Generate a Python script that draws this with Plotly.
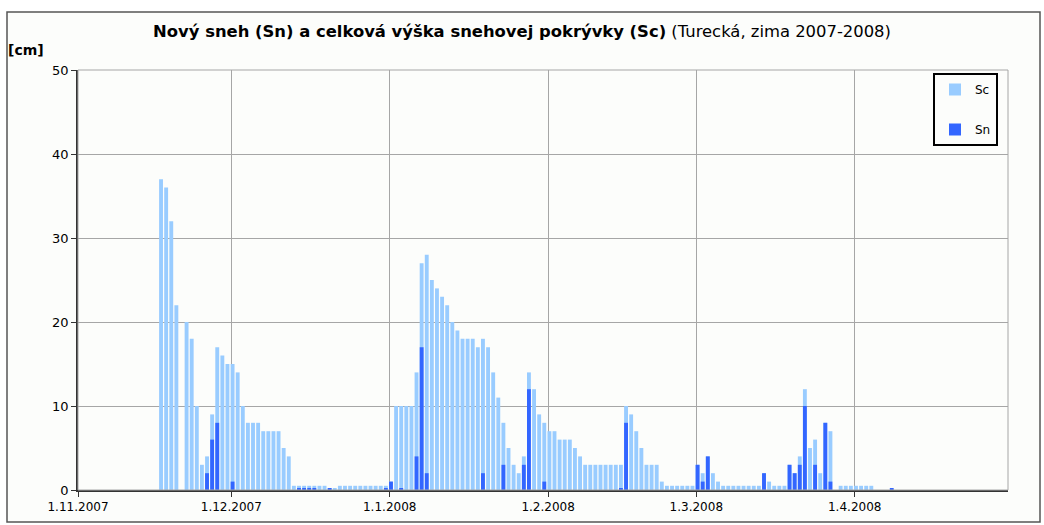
import pandas as pd
import plotly.graph_objects as go

# ---- data (daily values from 17.11.2007) ----
start_day = "2007-11-17"
sc_values = [
    37, 36, 32, 22, None, 20, 18, 10, 3, 4, 9, 17, 16, 15, 15, 14, 10, 8, 8, 8,
    7, 7, 7, 7, 5, 4, 0.5, 0.5, 0.5, 0.5, 0.5, 0.5, 0.5, 0.2, 0.2,
    0.5, 0.5, 0.5, 0.5, 0.5, 0.5, 0.5, 0.5, 0.5, 0.5, 1,
    10, 10, 10, 10, 14, 27, 28, 25, 24, 23, 22, 20, 19, 18, 18, 18, 17, 18, 17, 14,
    11, 8, 5, 3, 2, 4, 14, 12, 9, 8, 7, 7, 6, 6, 6, 5, 4,
    3, 3, 3, 3, 3, 3, 3, 3, 10, 9, 7, 5, 3, 3, 3, 1,
    0.5, 0.5, 0.5, 0.5, 0.5, 0.5, 3, 2, 4, 2, 1,
    0.5, 0.5, 0.5, 0.5, 0.5, 0.5, 0.5, 0.5, 2, 1, 0.5, 0.5, 0.5,
    3, 2, 4, 12, 5, 6, 2, 8, 7, None,
    0.5, 0.5, 0.5, 0.5, 0.5, 0.5, 0.5, None, None, None, None,
]
sn_values = [
    None, None, None, None, None, None, None, None, None, 2, 6, 8, None, None, 1, None, None, None, None, None,
    None, None, None, None, None, None, None, 0.2, 0.2, 0.2, 0.2, None, None, 0.2, None,
    None, None, None, None, None, None, None, None, None, 0.2, 1,
    None, 0.2, None, None, 4, 17, 2, None, None, None, None, None, None, None, None, None, None, 2, None, None,
    None, 3, None, None, None, 3, 12, None, None, 1, None, None, None, None, None, None, None,
    None, None, None, None, None, None, None, 0.2, 8, None, None, None, None, None, None, None,
    None, None, None, None, None, None, 3, 1, 4, None, None,
    None, None, None, None, None, None, None, None, 2, None, None, None, None,
    3, 2, 3, 10, None, 3, None, 8, 1, None,
    None, None, None, None, None, None, None, None, None, None, 0.2,
]
dates = pd.date_range(start_day, periods=len(sc_values), freq="D")

month_ticks = ["2007-11-01", "2007-12-01", "2008-01-01", "2008-02-01", "2008-03-01", "2008-04-01"]
month_labels = ["1.11.2007", "1.12.2007", "1.1.2008", "1.2.2008", "1.3.2008", "1.4.2008"]
x_range = ["2007-11-01", "2008-05-01"]

title_bold = "Nový sneh (Sn) a celková výška snehovej pokrývky (Sc)"
title_rest = "(Turecká, zima 2007-2008)"

# ---- styling ----
DAY_MS = 86400000
BAR_W = 0.76 * DAY_MS
BAR_OFF = -0.13 * DAY_MS
BG = "#fcfdfb"
GRID = "#a6a6a6"
FONT = "DejaVu Sans, Verdana, sans-serif"

fig = go.Figure()
fig.add_trace(go.Bar(x=dates, y=sc_values, name="Sc", marker_color="#99ccff",
                     marker_line_width=0, width=BAR_W, offset=BAR_OFF, legendgroup="a"))
fig.add_trace(go.Bar(x=dates, y=sn_values, name="Sn", marker_color="#3366ff",
                     marker_line_width=0, width=BAR_W, offset=BAR_OFF, legendgroup="b"))

L, R, T, B = 78, 36, 70, 35
W, H = 1044, 525
pw, ph = W - L - R, H - T - B

def px_x(x):
    return (x - L) / pw

def px_y(y):
    return (H - B - y) / ph

fig.update_layout(
    width=W, height=H,
    margin=dict(l=L, r=R, t=T, b=B),
    barmode="overlay",
    paper_bgcolor="white",
    plot_bgcolor=BG,
    font=dict(family=FONT, size=12, color="black"),
    title=dict(text=f"<b>{title_bold}</b> {title_rest}", x=0.5, xanchor="center",
               y=1 - 31 / H, yanchor="middle", font=dict(family=FONT, size=16.4, color="black")),
    showlegend=True,
    legend=dict(x=px_x(998), y=px_y(73), xanchor="right", yanchor="top",
                bgcolor=BG, bordercolor="black", borderwidth=2,
                font=dict(family=FONT, size=12), tracegroupgap=21, itemwidth=30),
    xaxis=dict(type="date", range=x_range, tickvals=month_ticks, ticktext=month_labels,
               showgrid=True, gridcolor=GRID, gridwidth=1,
               showline=True, linecolor="#333", linewidth=1.5,
               ticks="outside", ticklen=5, tickcolor="#333", zeroline=False),
    yaxis=dict(range=[0, 50], dtick=10, showgrid=True, gridcolor=GRID, gridwidth=1,
               showline=True, linecolor="#333", linewidth=1.5,
               ticks="outside", ticklen=5, tickcolor="#333", zeroline=False,
               tickfont=dict(size=13)),
    shapes=[
        dict(type="rect", xref="paper", yref="paper", layer="below",
             x0=px_x(7), x1=px_x(1040), y0=px_y(522), y1=px_y(12),
             line=dict(color="#555", width=1.5), fillcolor=BG),
        dict(type="rect", xref="paper", yref="paper", layer="above",
             x0=0, x1=1, y0=0, y1=1, line=dict(color=GRID, width=1)),
    ],
    annotations=[
        dict(text="<b>[cm]</b>", xref="paper", yref="paper", x=px_x(26), y=px_y(50),
             xanchor="center", yanchor="middle", showarrow=False,
             font=dict(family=FONT, size=14, color="black")),
    ],
)

fig.write_html("out.html", config={"displayModeBar": False},
               post_script="document.body.style.margin='0';")
